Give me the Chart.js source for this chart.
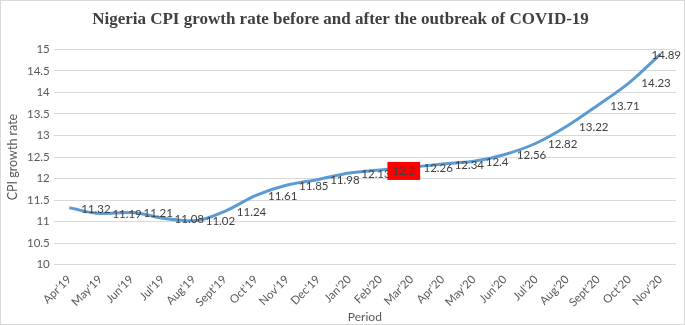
<!DOCTYPE html>
<html>
<head>
<meta charset="utf-8">
<script src="https://cdn.jsdelivr.net/npm/chart.js@4.4.0/dist/chart.umd.min.js"></script>
<style>
  html, body { margin: 0; padding: 0; background: #fff; }
  #wrap { width: 685px; height: 325px; box-sizing: border-box; border: 1px solid #d9d9d9; }
  #chart { display: block; }
</style>
</head>
<body>
<div id="wrap"><canvas id="chart" width="683" height="323"></canvas></div>
<script>
// periods and CPI growth rate (%)
const periods = ["Apr'19", "May'19", "Jun'19", "Jul'19", "Aug'19", "Sept'19", "Oct'19", "Nov'19", "Dec'19", "Jan'20",
    "Feb'20", "Mar'20", "Apr'20", "May'20", "Jun'20", "Jul'20", "Aug'20", "Sept'20", "Oct'20", "Nov'20"];
const cpiRate = [11.32, 11.19, 11.21, 11.08, 11.02, 11.24, 11.61, 11.85, 11.98, 12.13,
    12.2, 12.26, 12.34, 12.4, 12.56, 12.82, 13.22, 13.71, 14.23, 14.89];
const highlightIndex = 10; // outbreak month, label drawn on red

const textColor = '#595959';
const fontFamily = 'Lato, "Liberation Sans", sans-serif';

// simple value labels, placed right of each point like Excel does
const pointLabels = {
    id: 'pointLabels',
    afterDatasetsDraw(chart) {
        const ctx = chart.ctx;
        const meta = chart.getDatasetMeta(0);
        const maxRight = chart.width - 3;
        ctx.save();
        ctx.font = '11.5px ' + fontFamily;
        ctx.textBaseline = 'middle';
        ctx.textAlign = 'left';
        meta.data.forEach((pt, i) => {
            const text = String(cpiRate[i]);
            const w = ctx.measureText(text).width;
            let x = pt.x + 12;
            if (x + w > maxRight) x = maxRight - w;
            const y = pt.y + 1;
            if (i === highlightIndex) {
                ctx.fillStyle = '#ff0000';
                ctx.fillRect(x - 5, y - 9, w + 10, 18);
            }
            ctx.fillStyle = '#404040';
            ctx.fillText(text, x, y);
        });
        ctx.restore();
    }
};

new Chart(document.getElementById('chart').getContext('2d'), {
    type: 'line',
    data: {
        labels: periods,
        datasets: [{
            label: 'CPI growth rate',
            data: cpiRate,
            borderColor: '#5b9bd5',
            borderWidth: 3,
            pointRadius: 0,
            tension: 0.4,
            cubicInterpolationMode: 'monotone',
            fill: false
        }]
    },
    options: {
        responsive: false,
        animation: false,
        layout: { padding: { left: 4, right: 8, top: 6, bottom: 0 } },
        plugins: {
            legend: { display: false },
            tooltip: { enabled: false },
            title: {
                display: true,
                text: 'Nigeria CPI growth rate before and after the outbreak of COVID-19',
                color: '#404040',
                font: { family: '"Liberation Serif", "Times New Roman", serif', size: 17, weight: 'bold' },
                padding: { top: 2, bottom: 20 }
            }
        },
        scales: {
            x: {
                offset: true,
                grid: { display: false },
                border: { display: false },
                ticks: {
                    color: textColor,
                    font: { family: fontFamily, size: 11.5 },
                    maxRotation: 45,
                    minRotation: 45,
                    autoSkip: false,
                    padding: 0
                },
                title: {
                    display: true,
                    text: 'Period',
                    color: textColor,
                    font: { family: fontFamily, size: 12 },
                    padding: { top: 0, bottom: 0 }
                }
            },
            y: {
                min: 10,
                max: 15,
                grid: { color: '#d9d9d9', drawTicks: false },
                border: { display: false },
                ticks: {
                    stepSize: 0.5,
                    color: textColor,
                    font: { family: fontFamily, size: 11.5 },
                    padding: 4,
                    callback: v => String(v)
                },
                title: {
                    display: true,
                    text: 'CPI growth rate',
                    color: textColor,
                    font: { family: fontFamily, size: 12.5 },
                    padding: { top: 0, bottom: 3 }
                }
            }
        }
    },
    plugins: [pointLabels]
});
</script>
</body>
</html>
